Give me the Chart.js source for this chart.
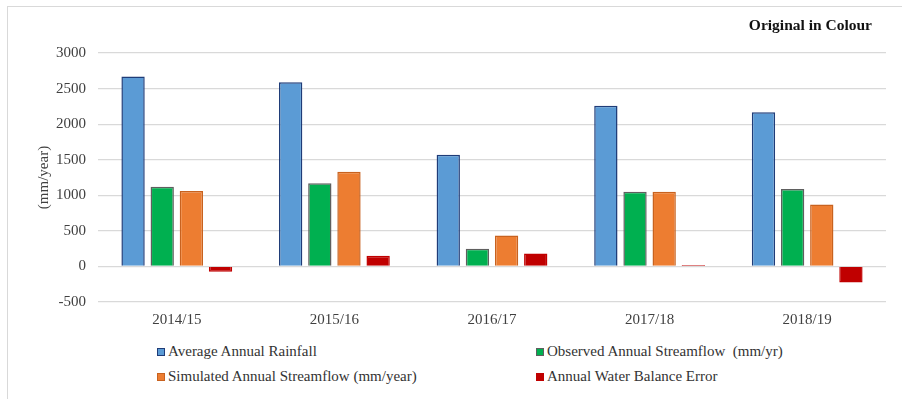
<!DOCTYPE html>
<html>
<head>
<meta charset="utf-8">
<script src="https://cdn.jsdelivr.net/npm/chart.js@4/dist/chart.umd.min.js"></script>
<style>
  html, body { margin: 0; padding: 0; background: #fff; }
  #wrap { position: relative; width: 902px; height: 399px; overflow: hidden; font-family: "Liberation Serif", "Times New Roman", serif; }
  #frame { position: absolute; left: 7px; top: 6px; width: 920px; height: 420px; border-top: 1.5px solid #d9d9d9; border-left: 1.5px solid #d9d9d9; }
  #chart { position: absolute; left: 0; top: 0; }
  #note { position: absolute; right: 30px; top: 16px; font-size: 15.5px; line-height: 18px; font-weight: bold; color: #111; }
  .leg { position: absolute; font-size: 15px; line-height: 18px; color: #333; white-space: pre; }
  .leg i { position: absolute; left: -11px; top: 6px; width: 6px; height: 6px; border: 1px solid; }
</style>
</head>
<body>
<div id="wrap">
  <div id="frame"></div>
  <canvas id="chart" width="902" height="340"></canvas>
  <div id="note">Original in Colour</div>
  <div id="legend"></div>
</div>
<script>
/* datos */
const years = ['2014/15', '2015/16', '2016/17', '2017/18', '2018/19'];
const rainfall   = [2670, 2590, 1570, 2258, 2168];
const observed   = [1120, 1170, 250, 1050, 1090];
const simulated  = [1060, 1330, 435, 1050, 870];
const wbError    = [-75, 150, 180, 20, -225];
const yTicks     = [-500, 0, 500, 1000, 1500, 2000, 2500, 3000];

const series = [
  { label: 'Average Annual Rainfall',                data: rainfall,  fill: '#5b9bd5', line: '#1f3c78' },
  { label: 'Observed Annual Streamflow  (mm/yr)',    data: observed,  fill: '#00b050', line: '#5f5f5f' },
  { label: 'Simulated Annual Streamflow (mm/year)',  data: simulated, fill: '#ed7d31', line: '#c8621f' },
  { label: 'Annual Water Balance Error',             data: wbError,   fill: '#c00000', line: '#c00000' },
];

const serif = '"Liberation Serif", "Times New Roman", serif';

const chart = new Chart(document.getElementById('chart'), {
  type: 'bar',
  data: {
    labels: years,
    datasets: series.map(s => ({
      label: s.label,
      data: s.data,
      backgroundColor: s.fill,
      borderColor: s.line,
      borderWidth: 1.5,
      categoryPercentage: 0.74,
      barPercentage: 0.8,
    })),
  },
  options: {
    responsive: false,
    animation: false,
    devicePixelRatio: 1,
    layout: { padding: { left: 0, right: 16, top: 53, bottom: 8 } },
    plugins: { legend: { display: false }, tooltip: { enabled: false } },
    scales: {
      x: {
        grid: { display: false, drawTicks: false },
        border: { display: false },
        ticks: { color: '#404040', font: { family: serif, size: 15 }, padding: 9 },
        afterFit: (s) => { s.height = 30; },
      },
      y: {
        min: yTicks[0],
        max: yTicks[yTicks.length - 1],
        afterBuildTicks: (s) => { s.ticks = yTicks.map(v => ({ value: v })); },
        grid: { color: '#d9d9d9', lineWidth: 1.2, drawTicks: false },
        border: { display: false },
        ticks: {
          color: '#404040', font: { family: serif, size: 15 }, padding: 12,
          callback: (v) => String(v),
        },
        title: { display: true, text: '(mm/year)', color: '#404040', font: { family: serif, size: 15 }, padding: { top: 35 } },
        afterFit: (s) => { s.width = 98; },
      },
    },
  },
});

/* leyenda en dos columnas */
const legend = document.getElementById('legend');
const legPos = [[168, 342], [547, 342], [168, 367], [547, 367]];
chart.data.datasets.forEach((ds, i) => {
  const [x, y] = legPos[i];
  const el = document.createElement('div');
  el.className = 'leg';
  el.style.left = x + 'px';
  el.style.top = y + 'px';
  el.innerHTML = `<i style="background:${ds.backgroundColor};border-color:${ds.borderColor}"></i>${ds.label}`;
  legend.appendChild(el);
});
</script>
</body>
</html>
